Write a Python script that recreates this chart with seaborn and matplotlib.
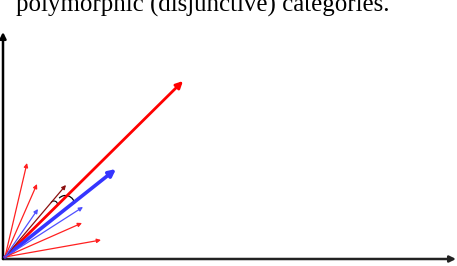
import numpy as np
import pandas as pd
import seaborn as sns
import matplotlib.pyplot as plt
from matplotlib.patches import Arc

# vectors drawn from the common origin (dx, dy)
vec_names = ["big_red", "big_blue", "red1", "red2", "red3", "red4", "dark_red", "blue1", "blue2"]
vec_dx = [178, 111, 22, 32, 77, 96, 61, 33, 78]
vec_dy = [176, 88, 94, 73, 34, 17, 72, 48, 50]
vec_color = ["#ff0000", "#3535ff", "#ff2020", "#ff2020", "#ff2020", "#ff2020", "#8b1010", "#5050ff", "#5050ff"]
vec_width = [2.0, 2.6, 0.9, 0.9, 0.9, 0.9, 0.9, 0.9, 0.9]

title_text = "polymorphic (disjunctive) categories."

df = pd.DataFrame({"name": vec_names, "dx": vec_dx, "dy": vec_dy,
                   "color": vec_color, "lw": vec_width})

sns.set_theme(style="white")
plt.rcParams['font.family'] = ['Liberation Serif', 'DejaVu Serif']

fig = plt.figure(figsize=(4.57, 2.66), dpi=100)
ax = fig.add_axes([0, 0, 1, 1])
ax.set_xlim(0, 457)
ax.set_ylim(0, 266)
ax.axis("off")

ox, oy = 5, 9

# coordinate axes
ax.annotate("", xy=(456, 7), xytext=(3, 7),
            arrowprops=dict(arrowstyle="-|>", color="#222222", lw=1.8,
                            mutation_scale=9, shrinkA=0, shrinkB=0))
ax.annotate("", xy=(3, 234), xytext=(3, 7),
            arrowprops=dict(arrowstyle="-|>", color="black", lw=1.8,
                            mutation_scale=9, shrinkA=0, shrinkB=0))

# the vectors
for _, r in df.iterrows():
    head = 10 if r["lw"] > 1.5 else 6
    ax.annotate("", xy=(ox + r["dx"], oy + r["dy"]), xytext=(ox, oy),
                arrowprops=dict(arrowstyle="-|>", color=r["color"], lw=r["lw"],
                                mutation_scale=head, shrinkA=0, shrinkB=0))

# angle markers
ax.add_patch(Arc((65.5, 61.5), 18, 18, theta1=5, theta2=135, color="black", lw=0.9))
ax.add_patch(Arc((54, 61.5), 7, 7, theta1=0, theta2=150, color="black", lw=0.8))

ax.text(16, 254, title_text, fontsize=17.9, color="black", va="baseline", ha="left")

fig.savefig("out.png", dpi=100)
